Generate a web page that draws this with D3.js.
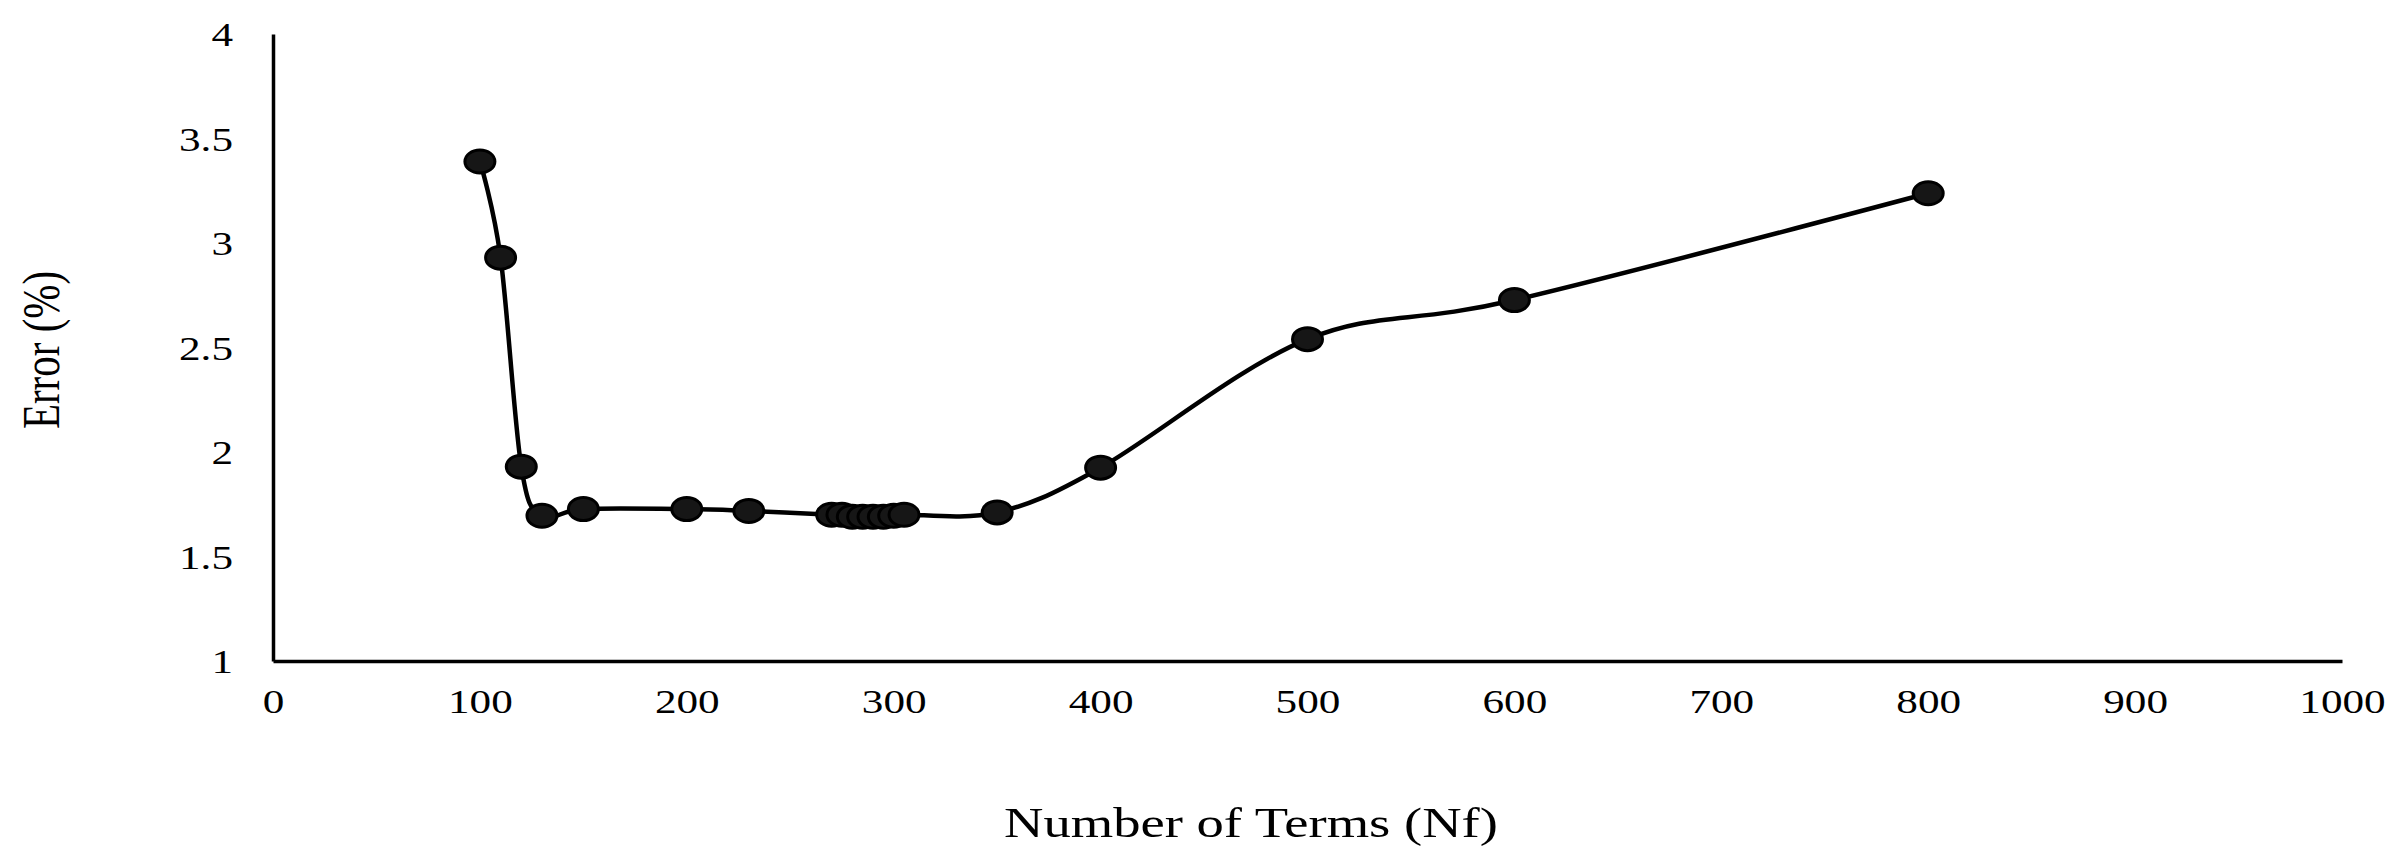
<!DOCTYPE html>
<html>
<head>
<meta charset="utf-8">
<script src="https://cdn.jsdelivr.net/npm/d3@7"></script>
<style>
  html, body { margin: 0; padding: 0; background: #fff; }
  svg { display: block; }
  text { font-family: "Liberation Serif", "Times New Roman", serif; fill: #000; }
</style>
</head>
<body>
<svg id="chart" width="2400" height="858"></svg>
<script>
// data
const terms = [100, 110, 120, 130, 150, 200, 230, 270, 275, 280, 285, 290, 295, 300, 305, 350, 400, 500, 600, 800];
const errors = [3.39, 2.93, 1.93, 1.695, 1.727, 1.727, 1.718, 1.70, 1.70, 1.69, 1.69, 1.69, 1.69, 1.695, 1.70, 1.711, 1.925, 2.54, 2.727, 3.238];
const xTicks = [0, 100, 200, 300, 400, 500, 600, 700, 800, 900, 1000];
const yTicks = [1, 1.5, 2, 2.5, 3, 3.5, 4];

const data = terms.map((t, i) => ({ x: t, y: errors[i] }));

const svg = d3.select("#chart");
const stretch = 1.27; // text in the original is widened

const x = d3.scaleLinear().domain([0, 1000]).range([273, 2342]);
const y = d3.scaleLinear().domain([1, 4]).range([661, 34]);

// y axis
const yAxis = svg.append("g")
  .attr("transform", `translate(${x(0)},0)`)
  .call(d3.axisLeft(y).tickValues(yTicks).tickSize(0).tickSizeOuter(0).tickFormat(d => d));
yAxis.select(".domain").attr("stroke", "#000").attr("stroke-width", 3.5);
yAxis.selectAll("text")
  .attr("x", null)
  .attr("dy", "0.34em")
  .attr("transform", `translate(-40,0) scale(${stretch},1)`)
  .style("text-anchor", "end")
  .style("font-family", "Liberation Serif, Times New Roman, serif")
  .style("font-size", "34px")
  .attr("fill", "#000");

// x axis
const xAxis = svg.append("g")
  .attr("transform", `translate(0,${y(1)})`)
  .call(d3.axisBottom(x).tickValues(xTicks).tickSize(0).tickSizeOuter(0).tickFormat(d => d));
xAxis.select(".domain").attr("stroke", "#000").attr("stroke-width", 3.5);
xAxis.selectAll("text")
  .attr("y", null)
  .attr("dy", null)
  .attr("transform", `translate(0,52) scale(${stretch},1)`)
  .style("text-anchor", "middle")
  .style("font-family", "Liberation Serif, Times New Roman, serif")
  .style("font-size", "34px")
  .attr("fill", "#000");

// smoothed line
const line = d3.line()
  .x(d => x(d.x))
  .y(d => y(d.y))
  .curve(d3.curveCardinal.tension(0));

svg.append("path")
  .datum(data)
  .attr("d", line)
  .attr("fill", "none")
  .attr("stroke", "#000")
  .attr("stroke-width", 4.5);

// markers
svg.selectAll("ellipse.pt")
  .data(data)
  .enter()
  .append("ellipse")
  .attr("class", "pt")
  .attr("cx", d => x(d.x))
  .attr("cy", d => y(d.y))
  .attr("rx", 15)
  .attr("ry", 11.5)
  .attr("fill", "#161616")
  .attr("stroke", "#000")
  .attr("stroke-width", 3);

// axis titles
svg.append("text")
  .attr("transform", `translate(1251,837) scale(${stretch},1)`)
  .style("text-anchor", "middle")
  .style("font-size", "43px")
  .text("Number of Terms (Nf)");

svg.append("text")
  .attr("transform", `translate(59,350) scale(${stretch},1) rotate(-90)`)
  .style("text-anchor", "middle")
  .style("font-size", "41px")
  .text("Error (%)");
</script>
</body>
</html>
